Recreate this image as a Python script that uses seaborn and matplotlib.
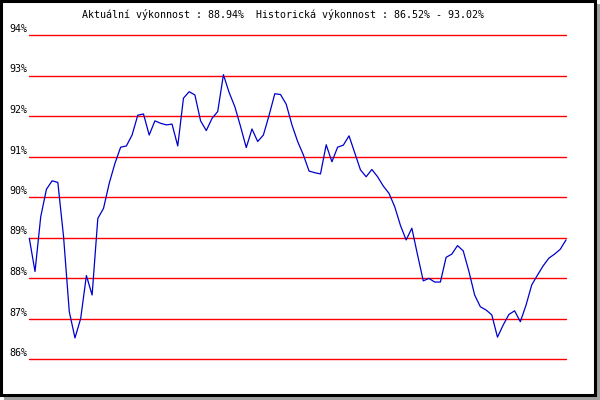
"""
plot.py
Line chart of the performance history ("výkonnost") with red percentage grid,
framed with a drop shadow like the original web widget.
"""

import numpy as np
import pandas as pd
import matplotlib

matplotlib.use("Agg")
import matplotlib.pyplot as plt
import matplotlib.transforms as mtransforms
from matplotlib.patches import Rectangle
import seaborn as sns

# --- data ------------------------------------------------------------------
performance = [
    88.98, 88.16, 89.51, 90.19, 90.40, 90.36, 89.02, 87.17, 86.52, 87.00,
    88.06, 87.58, 89.47, 89.72, 90.34, 90.83, 91.23, 91.26, 91.53, 92.02,
    92.05, 91.53, 91.88, 91.82, 91.78, 91.80, 91.26, 92.44, 92.60, 92.52,
    91.88, 91.64, 91.94, 92.11, 93.02, 92.58, 92.23, 91.74, 91.22, 91.68,
    91.37, 91.53, 92.02, 92.55, 92.53, 92.29, 91.78, 91.37, 91.04, 90.64,
    90.60, 90.57, 91.29, 90.87, 91.23, 91.28, 91.51, 91.09, 90.67, 90.50,
    90.68, 90.50, 90.27, 90.09, 89.76, 89.30, 88.94, 89.23, 88.57, 87.93,
    87.99, 87.90, 87.90, 88.51, 88.59, 88.80, 88.67, 88.16, 87.58, 87.29,
    87.21, 87.09, 86.54, 86.84, 87.10, 87.19, 86.92, 87.33, 87.83, 88.07,
    88.30, 88.49, 88.59, 88.71, 88.94,
]
grid_levels = [86, 87, 88, 89, 90, 91, 92, 93, 94]
grid_labels = ["86%", "87%", "88%", "89%", "90%", "91%", "92%", "93%", "94%"]
title_text = "Aktuální výkonnost : 88.94%  Historická výkonnost : 86.52% - 93.02%"

W, H = 600, 400


def px(x, y):
    """pixel coords (origin top-left) -> figure fraction"""
    return x / W, 1 - y / H


sns.set_style("white")
plt.rcParams["font.family"] = ["DejaVu Sans Mono", "DejaVu Sans"]

fig = plt.figure(figsize=(6, 4), dpi=100)
fig.patch.set_facecolor("white")

# frame with grey drop shadow
fig.patches.append(Rectangle(px(4, 400), 596 / W, 396 / H, transform=fig.transFigure,
                             facecolor="#a0a0a0", edgecolor="none", zorder=0))
fig.patches.append(Rectangle(px(1, 395), 594 / W, 394 / H, transform=fig.transFigure,
                             facecolor="white", edgecolor="black", linewidth=2.2, zorder=1))

# plot area: x 29..566 px, y 35 (94%) .. 359 (86%)
left, top = px(29.3, 35)
right, bottom = px(566, 359)
ax = fig.add_axes([left, bottom, right - left, top - bottom])
ax.set_facecolor("none")
ax.set_zorder(2)

df = pd.DataFrame({"idx": np.arange(len(performance)), "perf": performance})

for lvl in grid_levels:
    ax.axhline(lvl, color="#ff0000", linewidth=1.0, clip_on=False, zorder=1)

sns.lineplot(data=df, x="idx", y="perf", ax=ax, color="#0000cc",
             linewidth=0.9, zorder=3, clip_on=False)

ax.set_xlim(0, len(performance) - 1)
ax.set_ylim(86, 94)
ax.set_xticks([])
ax.set_yticks([])
ax.set_xlabel("")
ax.set_ylabel("")
for s in ax.spines.values():
    s.set_visible(False)

# y labels sit just above their grid line, right aligned to the axis start
trans = mtransforms.blended_transform_factory(fig.transFigure, ax.transData)
trans = mtransforms.offset_copy(trans, fig=fig, x=0, y=6, units="dots")
for lvl, lab in zip(grid_levels, grid_labels):
    fig.text(27.5 / W, lvl, lab, transform=trans, ha="right", va="center",
             fontsize=7.2, color="black", zorder=5)

tx, ty = px(283, 15)
fig.text(tx, ty, title_text, ha="center", va="center", fontsize=7.2,
         color="black", zorder=5)

fig.savefig("out.png", dpi=100)
